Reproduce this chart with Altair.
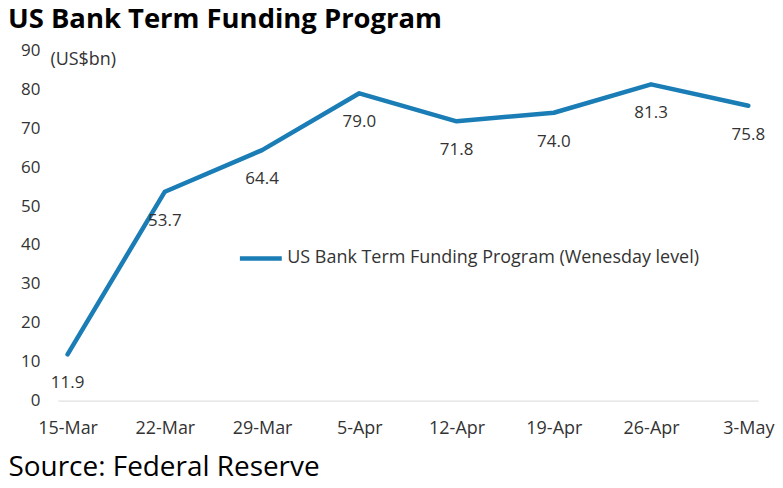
import altair as alt
import pandas as pd

dates = ["15-Mar", "22-Mar", "29-Mar", "5-Apr", "12-Apr", "19-Apr", "26-Apr", "3-May"]
values = [11.9, 53.7, 64.4, 79.0, 71.8, 74.0, 81.3, 75.8]
series_name = "US Bank Term Funding Program (Wenesday level)"
title_text = "US Bank Term Funding Program"
source_text = "Source: Federal Reserve"
unit_text = "(US$bn)"
y_ticks = [0, 10, 20, 30, 40, 50, 60, 70, 80, 90]

BLUE = "#1a7db5"
TXT = "#333333"
FONT = "Open Sans"

df = pd.DataFrame({"date": dates, "value": values, "series": [series_name] * len(dates)})
df["label"] = [f"{v:.1f}" for v in values]

x_enc = alt.X(
    "date:N",
    sort=dates,
    scale=alt.Scale(type="point", padding=0.1),
    axis=alt.Axis(
        title=source_text,
        titleFont=FONT,
        titleFontSize=28,
        titleFontWeight="normal",
        titleColor="#000000",
        titleAnchor="start",
        titleAlign="left",
        titleX=-50,
        titleY=75,
        titleBaseline="alphabetic",
        labelAngle=0,
        labelFont=FONT,
        labelFontSize=18,
        labelColor=TXT,
        labelPadding=19,
        labelOverlap=False,
        ticks=False,
        grid=False,
        domainColor="#d9d9d9",
        domainWidth=1,
    ),
)

y_enc = alt.Y(
    "value:Q",
    scale=alt.Scale(domain=[0, 90], nice=False, zero=True),
    axis=alt.Axis(
        values=y_ticks,
        title=unit_text,
        titleAngle=0,
        titleFont=FONT,
        titleFontSize=18,
        titleFontWeight="normal",
        titleColor=TXT,
        titleAlign="left",
        titleBaseline="middle",
        titleX=-8,
        titleY=9,
        labelFont=FONT,
        labelFontSize=17,
        labelColor=TXT,
        labelPadding=18,
        labelOverlap=False,
        ticks=False,
        grid=False,
        domain=False,
    ),
)

base = alt.Chart(df).encode(x=x_enc, y=y_enc)

line = base.mark_line(strokeWidth=4.5, strokeCap="round", strokeJoin="round").encode(
    color=alt.Color(
        "series:N",
        scale=alt.Scale(domain=[series_name], range=[BLUE]),
        legend=alt.Legend(
            title=None,
            orient="none",
            legendX=180,
            legendY=185,
            symbolType="stroke",
            symbolSize=1764,
            symbolStrokeWidth=4.5,
            labelFont=FONT,
            labelFontSize=18,
            labelColor=TXT,
            labelOffset=3,
            labelLimit=0,
            padding=0,
        ),
    ),
)

labels = base.mark_text(
    font=FONT, fontSize=17, color=TXT, dy=29, baseline="middle", align="center"
).encode(text="label:N")

chart = (
    alt.layer(line, labels)
    .properties(
        width=702,
        height=351,
        autosize=alt.AutoSizeParams(type="none"),
        padding={"left": 50, "top": 42, "right": 17, "bottom": 79},
        background="white",
        title=alt.TitleParams(
            text=title_text,
            font=FONT,
            fontSize=27.5,
            fontWeight="bold",
            color="#000000",
            anchor="start",
            frame="group",
            dx=-50,
            dy=26,
            offset=12,
            baseline="alphabetic",
        ),
    )
    .configure_view(strokeWidth=0, stroke="transparent")
)

chart.save("out.html", embed_options={"renderer": "svg", "actions": False})
